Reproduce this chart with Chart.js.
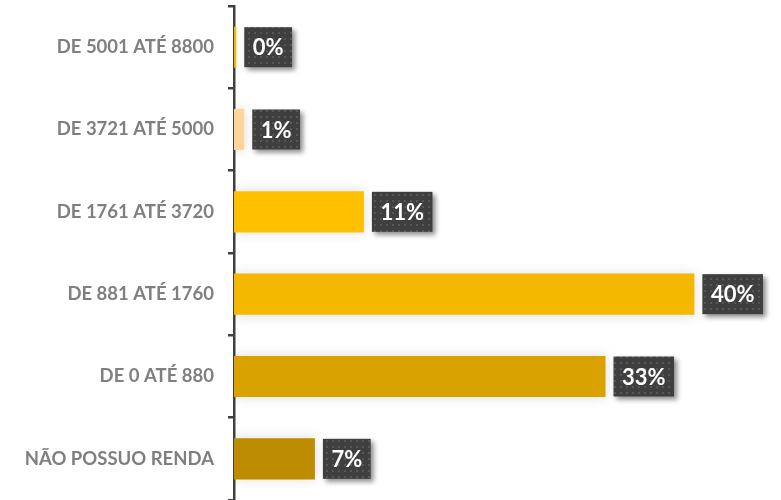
<!DOCTYPE html>
<html>
<head>
<meta charset="utf-8">
<script src="https://cdn.jsdelivr.net/npm/chart.js@4.4.0/dist/chart.umd.min.js"></script>
<style>
  html, body { margin: 0; padding: 0; background: #fff; }
  #wrap { width: 781px; height: 500px; position: relative; }
</style>
</head>
<body>
<div id="wrap"><canvas id="bars"></canvas></div>
<script>
const categories = ["DE 5001 ATÉ 8800", "DE 3721 ATÉ 5000", "DE 1761 ATÉ 3720", "DE 881 ATÉ 1760", "DE 0 ATÉ 880", "NÃO POSSUO RENDA"];
const values = [0.2, 0.9, 11.4, 40.4, 32.6, 7.1];
const barColors = ["#F2B705", "#FFD699", "#FFC000", "#F5B800", "#D9A200", "#BD8C00"];

// dotted dark fill for the value boxes
function makePattern(ctx) {
  const c = document.createElement("canvas");
  c.width = 6; c.height = 6;
  const p = c.getContext("2d");
  p.fillStyle = "#3f3f3f";
  p.fillRect(0, 0, 6, 6);
  p.fillStyle = "#575757";
  p.fillRect(2, 2, 2, 2);
  return ctx.createPattern(c, "repeat");
}

const barShadow = {
  id: "barShadow",
  beforeDatasetDraw(chart) {
    const ctx = chart.ctx;
    ctx.save();
    ctx.shadowColor = "rgba(0,0,0,0.14)";
    ctx.shadowBlur = 12;
  },
  afterDatasetDraw(chart) {
    chart.ctx.restore();
  }
};

const valueBoxes = {
  id: "valueBoxes",
  afterDatasetsDraw(chart) {
    const ctx = chart.ctx;
    const meta = chart.getDatasetMeta(0);
    const pattern = makePattern(ctx);
    ctx.save();
    ctx.font = "bold 22px Lato";
    meta.data.forEach((bar, i) => {
      const txt = Math.round(values[i]) + "%";
      const w = ctx.measureText(txt).width + 17;
      const h = 40;
      const x = bar.x + 8;
      const y = bar.y - h / 2;
      ctx.save();
      ctx.shadowColor = "rgba(0,0,0,0.45)";
      ctx.shadowBlur = 5;
      ctx.shadowOffsetX = 3;
      ctx.shadowOffsetY = 3;
      ctx.fillStyle = pattern;
      ctx.fillRect(x, y, w, h);
      ctx.restore();
      ctx.fillStyle = "#ffffff";
      ctx.textAlign = "center";
      ctx.textBaseline = "middle";
      ctx.fillText(txt, x + w / 2, bar.y + 1);
    });
    ctx.restore();
  }
};

new Chart(document.getElementById("bars").getContext("2d"), {
  type: "bar",
  data: {
    labels: categories,
    datasets: [{
      data: values,
      backgroundColor: barColors,
      borderWidth: 0,
      barPercentage: 0.5,
      categoryPercentage: 1
    }]
  },
  options: {
    indexAxis: "y",
    responsive: true,
    maintainAspectRatio: false,
    animation: false,
    layout: { padding: { top: 6, bottom: 0, left: 0, right: 0 } },
    plugins: { legend: { display: false }, tooltip: { enabled: false } },
    scales: {
      x: { display: false, min: 0, max: 48 },
      y: {
        afterFit(axis) {
          axis.width = 234;
          axis.paddingTop = 0;
          axis.paddingBottom = 0;
        },
        border: { display: true, color: "#404040", width: 2.5 },
        grid: { drawOnChartArea: false, drawTicks: true, tickLength: 6, color: "#404040", lineWidth: 2.5, offset: true },
        ticks: { color: "#7f7f7f", font: { family: "Lato", size: 18.5, weight: "bold" }, padding: 14 }
      }
    }
  },
  plugins: [barShadow, valueBoxes]
});
</script>
</body>
</html>
